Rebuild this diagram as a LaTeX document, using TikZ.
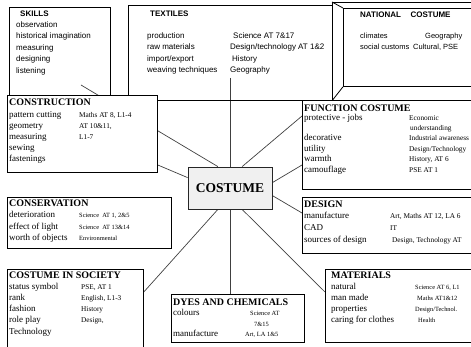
\documentclass[tikz,border=0pt]{standalone}
\usepackage{fontspec}
\setmainfont{Liberation Serif}
\newfontfamily\arialfont{Liberation Sans}
\usetikzlibrary{backgrounds,calc}

\begin{document}
\begin{tikzpicture}[x=1pt,y=-1pt,
  frame/.style={draw=black,line width=0.8pt,inner sep=0pt,anchor=north west},
  whitebox/.style={frame,fill=white},
  link/.style={draw=black!75,line width=0.7pt},
  txt/.style={anchor=base west,inner sep=0pt},
  stitle/.style={txt,font=\arialfont\bfseries\fontsize{8}{10}\selectfont},
  sbody/.style={txt,font=\arialfont\fontsize{8}{10}\selectfont},
  nbody/.style={txt,font=\arialfont\fontsize{7.5}{9}\selectfont},
  rtitle/.style={txt,font=\bfseries\fontsize{10}{12}\selectfont},
  rbody/.style={txt,font=\fontsize{9}{11}\selectfont},
  rnote/.style={txt,font=\fontsize{7.3}{8}\selectfont},
  rtiny/.style={txt,font=\fontsize{6.4}{7}\selectfont}]

\path[use as bounding box, clip] (0,0) rectangle (471,347);

% ---- top row: open frames ----
\node[frame,minimum width=101pt,minimum height=98pt] (skills) at (9,7) {};
\node[frame,minimum width=204pt,minimum height=95pt] (textiles) at (128,5) {};
\node[frame,minimum width=150pt,minimum height=98pt] (natouter) at (332,2) {};
\node[frame,minimum width=140pt,minimum height=78pt] (national) at (343,8) {};
\draw[line width=0.8pt] (natouter.north west) -- (national.north west);
\draw[line width=0.8pt] (natouter.south west) -- (national.south west);

% ---- white boxes ----
\node[whitebox,minimum width=150pt,minimum height=77pt] (construction) at (7,95) {};
\node[whitebox,minimum width=176pt,minimum height=89pt] (function) at (302,100) {};
\node[whitebox,minimum width=176pt,minimum height=56pt] (design) at (302,197) {};
\node[whitebox,minimum width=164pt,minimum height=51pt] (conservation) at (7,197) {};
\node[whitebox,minimum width=136pt,minimum height=86pt] (society) at (7,269) {};
\node[whitebox,minimum width=133pt,minimum height=48pt] (dyes) at (171,294) {};
\node[whitebox,minimum width=153pt,minimum height=73pt] (materials) at (325,269) {};
\node[draw=black!85,line width=0.8pt,fill=black!6,minimum width=84pt,minimum height=42pt,
      inner sep=0pt,font=\bfseries\fontsize{13.5}{15}\selectfont] (costume) at (230,188) {COSTUME};

% ---- SKILLS ----
\node[stitle] (sk0) at (20,16.5) {SKILLS};
\node[sbody] (sk1) at (16,27.5) {observation};
\node[sbody] (sk2) at (16,39) {historical imagination};
\node[sbody] (sk3) at (16,50.5) {measuring};
\node[sbody] (sk4) at (16,62) {designing};
\node[sbody] (sk5) at (16,73.5) {listening};

% ---- TEXTILES ----
\node[stitle] (tx0) at (150,16.5) {TEXTILES};
\node[sbody] (tx1) at (147,38.5) {production};
\node[sbody] (tx2) at (147,50) {raw materials};
\node[sbody] (tx3) at (147,61.5) {import/export};
\node[sbody] (tx4) at (147,73) {weaving techniques};
\node[sbody] (tx5) at (233,38.5) {Science AT 7\&17};
\node[sbody] (tx6) at (230,50) {Design/technology AT 1\&2};
\node[sbody] (tx7) at (232,61.5) {History};
\node[sbody] (tx8) at (230,73) {Geography};

% ---- NATIONAL COSTUME ----
\node[stitle] (nc0) at (360,18) {NATIONAL\hspace{1.2em}COSTUME};
\node[nbody] (nc1) at (360,38.5) {climates};
\node[nbody] (nc2) at (360,49.5) {social customs};
\node[nbody] (nc3) at (425,38.5) {Geography};
\node[nbody] (nc4) at (413,49.5) {Cultural, PSE};

% ---- CONSTRUCTION ----
\node[rtitle] (co0) at (9,105.5) {CONSTRUCTION};
\node[rbody] (co1) at (9,117.5) {pattern cutting};
\node[rbody] (co2) at (9,128.5) {geometry};
\node[rbody] (co3) at (9,139.5) {measuring};
\node[rbody] (co4) at (9,150.5) {sewing};
\node[rbody] (co5) at (9,161.5) {fastenings};
\node[rnote] (co6) at (79,117.5) {Maths AT 8, L1-4};
\node[rnote] (co7) at (79,128.5) {AT 10\&11,};
\node[rnote] (co8) at (79,139.5) {L1-7};

% ---- FUNCTION COSTUME ----
\node[rtitle] (fc0) at (304,111.5) {FUNCTION COSTUME};
\node[rbody] (fc1) at (304,121) {protective - jobs};
\node[rbody] (fc2) at (304,141) {decorative};
\node[rbody] (fc3) at (304,151.5) {utility};
\node[rbody] (fc4) at (304,162) {warmth};
\node[rbody] (fc5) at (304,172.5) {camouflage};
\node[rnote] (fc6) at (409,121) {Economic};
\node[rnote] (fc7) at (410,131) {understanding};
\node[rnote] (fc8) at (409,141) {Industrial awareness};
\node[rnote] (fc9) at (409,151.5) {Design/Technology};
\node[rnote] (fc10) at (409,162) {History, AT 6};
\node[rnote] (fc11) at (409,172.5) {PSE AT 1};

% ---- CONSERVATION ----
\node[rtitle] (cv0) at (9,206.5) {CONSERVATION};
\node[rbody] (cv1) at (9,218) {deterioration};
\node[rbody] (cv2) at (9,230) {effect of light};
\node[rbody] (cv3) at (9,241) {worth of objects};
\node[rtiny] (cv4) at (79,218) {Science\ \ AT 1, 2\&5};
\node[rtiny] (cv5) at (79,230) {Science\ \ AT 13\&14};
\node[rtiny] (cv6) at (79,241) {Environmental};

% ---- DESIGN ----
\node[rtitle] (de0) at (304,207.5) {DESIGN};
\node[rbody] (de1) at (304,219) {manufacture};
\node[rbody] (de2) at (304,231) {CAD};
\node[rbody] (de3) at (304,243) {sources of design};
\node[rnote] (de4) at (390,219) {Art, Maths AT 12, LA 6};
\node[rnote] (de5) at (390,231) {IT};
\node[rnote] (de6) at (392,243) {Design, Technology AT};

% ---- COSTUME IN SOCIETY ----
\node[rtitle] (cs0) at (9,278.5) {COSTUME IN SOCIETY};
\node[rbody] (cs1) at (9,290) {status symbol};
\node[rbody] (cs2) at (9,301) {rank};
\node[rbody] (cs3) at (9,312) {fashion};
\node[rbody] (cs4) at (9,323) {role play};
\node[rbody] (cs5) at (9,334.5) {Technology};
\node[rnote] (cs6) at (81,290) {PSE, AT 1};
\node[rnote] (cs7) at (81,301) {English, L1-3};
\node[rnote] (cs8) at (81,312) {History};
\node[rnote] (cs9) at (81,323) {Design,};

% ---- DYES AND CHEMICALS ----
\node[rtitle] (dc0) at (173,305.5) {DYES AND CHEMICALS};
\node[rbody] (dc1) at (173,316) {colours};
\node[rbody] (dc2) at (173,336) {manufacture};
\node[rtiny] (dc3) at (250,316) {Science AT};
\node[rtiny] (dc4) at (254,326) {7\&15};
\node[rtiny] (dc5) at (245,336) {Art, LA 1\&5};

% ---- MATERIALS ----
\node[rtitle] (ma0) at (331,278.5) {MATERIALS};
\node[rbody] (ma1) at (331,290) {natural};
\node[rbody] (ma2) at (331,301) {man made};
\node[rbody] (ma3) at (331,312) {properties};
\node[rbody] (ma4) at (331,323) {caring for clothes};
\node[rtiny] (ma5) at (415,290) {Science AT 6, L1};
\node[rtiny] (ma6) at (417,301) {Maths AT1\&12};
\node[rtiny] (ma7) at (415,312) {Design/Technol.};
\node[rtiny] (ma8) at (418,323) {Health};

% ---- spokes from the centre ----
\begin{scope}[on background layer]
  \coordinate (skillsfoot) at (81,85);
  \draw[link] (skillsfoot) -- ($(costume.north west)!0.357!(costume.north east)$);
  \draw[link] ($(costume.north |- tx8.south)+(0,3)$) -- (costume.north);
  \draw[link] ($(costume.north west)!0.643!(costume.north east)$) -- ($(function.north west)+(0,16)$);
  \draw[link] ($(costume.north east)+(0,16)$) -- ($(function.north west)+(0,65)$);
  \draw[link] ($(costume.north east)+(0,29)$) -- ($(design.north west)+(0,16)$);
  \draw[link] ($(costume.south west)!0.643!(costume.south east)$) -- ($(materials.north west)+(0,23)$);
  \draw[link] (costume.south) -- (costume.south |- dyes.north);
  \draw[link] ($(costume.south west)!0.357!(costume.south east)$) -- ($(society.north east)+(0,23)$);
  \draw[link] ($(construction.north east)+(0,70)$) -- ($(costume.north west)+(0,11)$);
\end{scope}
\end{tikzpicture}
\end{document}
